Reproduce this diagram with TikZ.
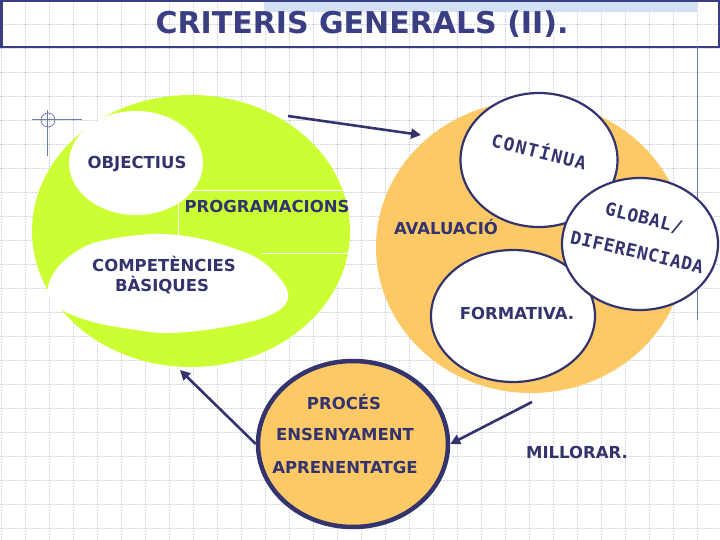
\documentclass[tikz,border=0pt]{standalone}
\usepackage{fontspec}
\setmainfont{DejaVu Sans}
\newfontfamily\monofa{DejaVu Sans Mono}[LetterSpace=8]
\newfontfamily\monofb{DejaVu Sans Mono}[LetterSpace=3]
\usetikzlibrary{shapes.geometric,arrows.meta}
\definecolor{navy}{RGB}{51,51,110}
\definecolor{titleblue}{RGB}{58,62,130}
\definecolor{limeg}{RGB}{204,255,51}
\definecolor{orangef}{RGB}{253,200,102}
\definecolor{gridc}{RGB}{212,216,228}
\definecolor{steel}{RGB}{110,125,165}
\definecolor{hatch}{RGB}{212,224,243}
\begin{document}
\begin{tikzpicture}[x=1pt,y=-1pt,
  lbl/.style={font=\bfseries\fontsize{16.5}{18}\selectfont, text=navy, inner sep=0pt, text height=12pt, text depth=0pt},
  mlbla/.style={font=\monofa\bfseries\fontsize{18}{20}\selectfont, text=navy, inner sep=0pt, text height=13pt, text depth=0pt},
  mlblb/.style={font=\monofb\bfseries\fontsize{18}{20}\selectfont, text=navy, inner sep=0pt, text height=13pt, text depth=0pt},
  bubble/.style={ellipse, draw=navy, line width=2.2pt, fill=white, inner sep=0pt},
  plainell/.style={ellipse, inner sep=0pt},
  arr/.style={draw=navy, line width=2.6pt, -{Triangle[length=10pt,width=10pt]}},
  gridl/.style={draw=gridc, line width=0.5pt, densely dotted}]
\useasboundingbox (0,0) rectangle (720,540);
\fill[white] (0,0) rectangle (720,540);
% grid
\foreach \x in {1,25,...,721} \draw[gridl] (\x,0) -- (\x,540);
\foreach \y in {0,24,...,540} \draw[gridl] (0,\y) -- (720,\y);
% top band and title box
\fill[hatch] (264,2) rectangle (697,12);
\draw[titleblue, line width=2.5pt] (1.25,1.25) rectangle (718.75,47);
\node[font=\bfseries\fontsize{30}{32}\selectfont, text=titleblue, inner sep=0pt, text height=22pt, text depth=0pt] (title) at (362,23) {CRITERIS GENERALS (II).};
% thin guide lines
\draw[steel, line width=0.8pt] (697,47) -- (697,320);
\draw[steel, line width=0.8pt] (48,120) circle[radius=7pt];
\draw[steel, line width=0.8pt] (32,119) -- (82,119) (47,110) -- (47,156);
% green group
\node[plainell, fill=limeg, minimum width=318pt, minimum height=272pt] (green) at (191,231) {};
\draw[white, line width=1pt] (178,191) -- (346,191) (178,191) -- (178,240) (262,253) -- (348,253);
\node[plainell, fill=white, minimum width=134pt, minimum height=104pt] (objE) at (136,163) {};
\fill[white] plot[smooth cycle, tension=0.6] coordinates {
  (48,287) (58,267) (77,251) (97,242) (130,236) (163,234) (197,238) (230,247)
  (257,258) (277,275) (288,293) (283,307) (263,318) (230,326) (197,331)
  (163,333) (130,329) (97,323) (70,314) (53,303)};
% orange group
\node[plainell, fill=orangef, minimum width=310pt, minimum height=292pt] (orange) at (531,247) {};
\node[bubble, minimum width=157pt, minimum height=134pt] (cont) at (539,160) {};
\node[bubble, minimum width=164pt, minimum height=132pt] (form) at (513,316) {};
\node[bubble, minimum width=156pt, minimum height=132pt] (glob) at (640,244) {};
% process circle
\node[plainell, fill=orangef, draw=navy, line width=4.5pt, minimum width=190pt, minimum height=166pt] (proc) at (353,444) {};
% arrows
\coordinate (a1s) at (288,116);
\coordinate (a1e) at (421,135);
\coordinate (a2s) at (532,402);
\coordinate (a3e) at (180,370);
\draw[arr] (a1s) -- (a1e);
\draw[arr] (a2s) -- (proc.east);
\draw[arr] (proc.west) -- (a3e);
% texts
\node[lbl] (tObj) at (137,163) {OBJECTIUS};
\node[lbl] (tProg) at (267,207) {PROGRAMACIONS};
\node[lbl] (tComp) at (164,265) {COMPETÈNCIES};
\node[lbl] (tBas) at (162,285) {BÀSIQUES};
\node[lbl] (tAval) at (446,229) {AVALUACIÓ};
\node[lbl] (tForm) at (517,313) {FORMATIVA.};
\node[lbl] (tProc) at (344,403) {PROCÉS};
\node[lbl] (tEns) at (345,434) {ENSENYAMENT};
\node[lbl] (tApr) at (345,467) {APRENENTATGE};
\node[lbl] (tMill) at (577,452) {MILLORAR.};
\node[mlbla, rotate=-14] (tCont) at (539,152) {CONTÍNUA};
\node[mlblb, rotate=-14] (tGlob) at (644,218) {GLOBAL/};
\node[mlblb, rotate=-13] (tDif) at (637,252) {DIFERENCIADA};
\end{tikzpicture}
\end{document}
